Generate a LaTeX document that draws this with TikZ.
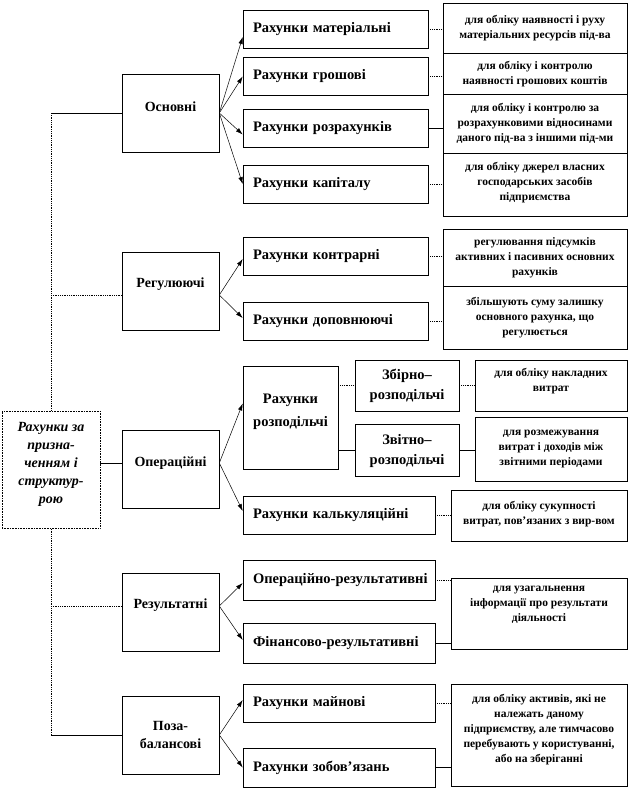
\documentclass[tikz,border=0pt]{standalone}
\usepackage{fontspec}
\setmainfont{Liberation Serif}
\usetikzlibrary{arrows.meta}
\newcommand{\liftone}[2]{\raisebox{#1}[\height][\depth]{#2}}
\newcommand{\liftml}[2]{\raisebox{#1}[\height][\depth]{\begin{tabular}{@{}c@{}}#2\end{tabular}}}
\begin{document}
\begin{tikzpicture}[x=1pt,y=-1pt,
 box/.style={draw=black,line width=0.6pt,fill=white,inner sep=2pt},
 rootbox/.style={box,densely dotted,line width=0.8pt,minimum width=98pt,minimum height=117pt,font=\bfseries\itshape\fontsize{14}{18}\selectfont},
 catbox/.style={box,minimum width=97pt,minimum height=78pt,align=center,font=\bfseries\fontsize{14}{18}\selectfont},
 accbox/.style={box,text width=#1,inner xsep=10pt,minimum height=38pt,align=left,font=\bfseries\fontsize{14.5}{18}\selectfont},
 subbox/.style={box,minimum width=104pt,minimum height=51pt,font=\bfseries\fontsize{14.5}{20}\selectfont},
 descbox/.style={box,minimum width=184pt,font=\bfseries\fontsize{11.5}{15}\selectfont},
 link/.style={line width=0.6pt},
 dlink/.style={line width=0.8pt,densely dotted},
 arr/.style={line width=0.5pt,-{Latex[length=7pt,width=4.5pt]}}
]
\useasboundingbox (0,0) rectangle (630,790);
% trunk coordinates
\coordinate (b1) at (51,113);
\coordinate (b2) at (51,295);
\coordinate (b3) at (51,463);
\coordinate (b4) at (51,606);
\coordinate (b5) at (51,735);
\draw[dlink] (b1) -- (b5);

% root
\node[rootbox] (root) at (51,469.5) {\liftml{6pt}{Рахунки за\\призна-\\ченням і\\структур-\\рою}};

% categories
\node[catbox] (osn) at (170.5,113) {\liftone{6pt}{Основні}};
\node[catbox] (reg) at (170.5,291.5) {\liftone{7pt}{Регулюючі}};
\node[catbox] (oper) at (170.5,469.5) {\liftone{6.5pt}{Операційні}};
\node[catbox] (rez) at (170.5,612) {\liftone{7pt}{Результатні}};
\node[catbox] (poza) at (170.5,735) {Поза-\\балансові};

% second level
\node[accbox=165pt] (mat) at (335.5,29) {Рахунки матеріальні};
\node[accbox=165pt] (grosh) at (335.5,76.5) {Рахунки грошові};
\node[accbox=165pt] (rozr) at (335.5,128.5) {Рахунки розрахунків};
\node[accbox=165pt] (kap) at (335.5,184) {Рахунки капіталу};
\node[accbox=165pt] (kontr) at (335.5,256) {Рахунки контрарні};
\node[accbox=165pt] (dopov) at (335.5,321) {Рахунки доповнюючі};
\node[box,minimum width=95pt,minimum height=103pt,font=\bfseries\fontsize{14.5}{23}\selectfont] (rozpod) at (290.5,417.5) {\liftml{7pt}{Рахунки\\розподільчі}};
\node[accbox=172pt] (kalk) at (339,515) {Рахунки калькуляційні};
\node[accbox=172pt,minimum height=40pt] (oprez) at (339,580) {\mbox{Операційно-результативні}};
\node[accbox=172pt,minimum height=40pt] (finrez) at (339,643) {\mbox{Фінансово-результативні}};
\node[accbox=172pt] (mayn) at (339,703) {Рахунки майнові};
\node[accbox=172pt,minimum height=39pt] (zobov) at (339,767.5) {Рахунки зобов’язань};

% sub boxes
\node[subbox] (zbirno) at (407,385.5) {\begin{tabular}{@{}c@{}}Збірно–\\розподільчі\end{tabular}};
\node[subbox,minimum height=52pt] (zvitno) at (407,450) {\begin{tabular}{@{}c@{}}Звітно–\\розподільчі\end{tabular}};

% descriptions
\node[descbox,minimum height=50pt] (d1) at (535,28) {\liftml{0pt}{для обліку наявності і руху\\матеріальних ресурсів під-ва}};
\node[descbox,minimum height=41pt] (d2) at (535,73.5) {\liftml{0pt}{для обліку і контролю\\наявності грошових коштів}};
\node[descbox,minimum height=59pt] (d3) at (535,123.5) {\liftml{0pt}{для обліку і контролю за\\розрахунковими відносинами\\даного під-ва з іншими під-ми}};
\node[descbox,minimum height=63pt] (d4) at (535,184.5) {\liftml{2pt}{для обліку джерел власних\\господарських засобів\\підприємства}};
\node[descbox,minimum height=57pt] (d5) at (535,257.5) {\liftml{0pt}{регулювання підсумків\\активних і пасивних основних\\рахунків}};
\node[descbox,minimum height=63pt] (d6) at (535,317.5) {\liftml{0pt}{збільшують суму залишку\\основного рахунка, що\\регулюється}};
\node[descbox,minimum width=152pt,minimum height=51pt] (d7) at (551,385.5) {\liftml{5pt}{для обліку накладних\\витрат}};
\node[descbox,minimum width=152pt,minimum height=64pt] (d8) at (551,449) {\liftml{2pt}{для розмежування\\витрат і доходів між\\звітними періодами}};
\node[descbox,minimum width=176pt,minimum height=51pt] (d9) at (539,515.5) {\liftml{2pt}{для обліку сукупності\\витрат, пов’язаних з вир-вом}};
\node[descbox,minimum width=176pt,minimum height=71pt] (d10) at (539,613.5) {\liftml{10pt}{для узагальнення\\інформації про результати\\діяльності}};
\node[descbox,minimum width=176pt,minimum height=102pt] (d11) at (539,735) {\liftml{6pt}{для обліку активів, які не\\належать даному\\підприємству, але тимчасово\\перебувають у користуванні,\\або на зберіганні}};

% branches from trunk
\draw[link] (b1) -- (osn.west |- b1);
\draw[dlink] (b2) -- (reg.west |- b2);
\draw[link] (root.east |- b3) -- (oper.west |- b3);
\draw[dlink] (b4) -- (rez.west |- b4);
\draw[link] (b5) -- (poza.west |- b5);

% arrows
\draw[arr] (osn.east |- b1) -- ([yshift=-8pt]mat.west);
\draw[arr] (osn.east |- b1) -- (grosh.west);
\draw[arr] (osn.east |- b1) -- ([yshift=-6pt]rozr.west);
\draw[arr] (osn.east |- b1) -- (kap.west);
\draw[arr] (reg.east |- b2) -- ([yshift=-3pt]kontr.west);
\draw[arr] (reg.east |- b2) -- ([yshift=3pt]dopov.west);
\draw[arr] (oper.east |- b3) -- ([yshift=14pt]rozpod.west);
\draw[arr] (oper.east |- b3) -- ([yshift=4pt]kalk.west);
\draw[arr] (rez.east |- b4) -- ([yshift=-3pt]oprez.west);
\draw[arr] (rez.east |- b4) -- ([yshift=3pt]finrez.west);
\draw[arr] (poza.east |- b5) -- ([yshift=3pt]mayn.west);
\draw[arr] (poza.east |- b5) -- (zobov.west);

% links to descriptions
\draw[dlink] (mat.east) -- (mat.east -| d1.west);
\draw[dlink] (grosh.east) -- (grosh.east -| d2.west);
\draw[link] (rozr.east) -- (rozr.east -| d3.west);
\draw[dlink] (kap.east) -- (kap.east -| d4.west);
\draw[dlink] (kontr.east) -- (kontr.east -| d5.west);
\draw[dlink] (dopov.east) -- (dopov.east -| d6.west);
\draw[dlink] (rozpod.east |- zbirno.west) -- (zbirno.west);
\draw[link] (rozpod.east |- zvitno.west) -- (zvitno.west);
\draw[dlink] (zbirno.east) -- (zbirno.east -| d7.west);
\draw[link] (zvitno.east) -- (zvitno.east -| d8.west);
\draw[dlink] (kalk.east) -- (kalk.east -| d9.west);
\draw[dlink] (oprez.east) -- (oprez.east -| d10.west);
\draw[link] (finrez.east) -- (finrez.east -| d10.west);
\draw[dlink] (mayn.east) -- (mayn.east -| d11.west);
\draw[link] (zobov.east) -- (zobov.east -| d11.west);
\end{tikzpicture}
\end{document}
